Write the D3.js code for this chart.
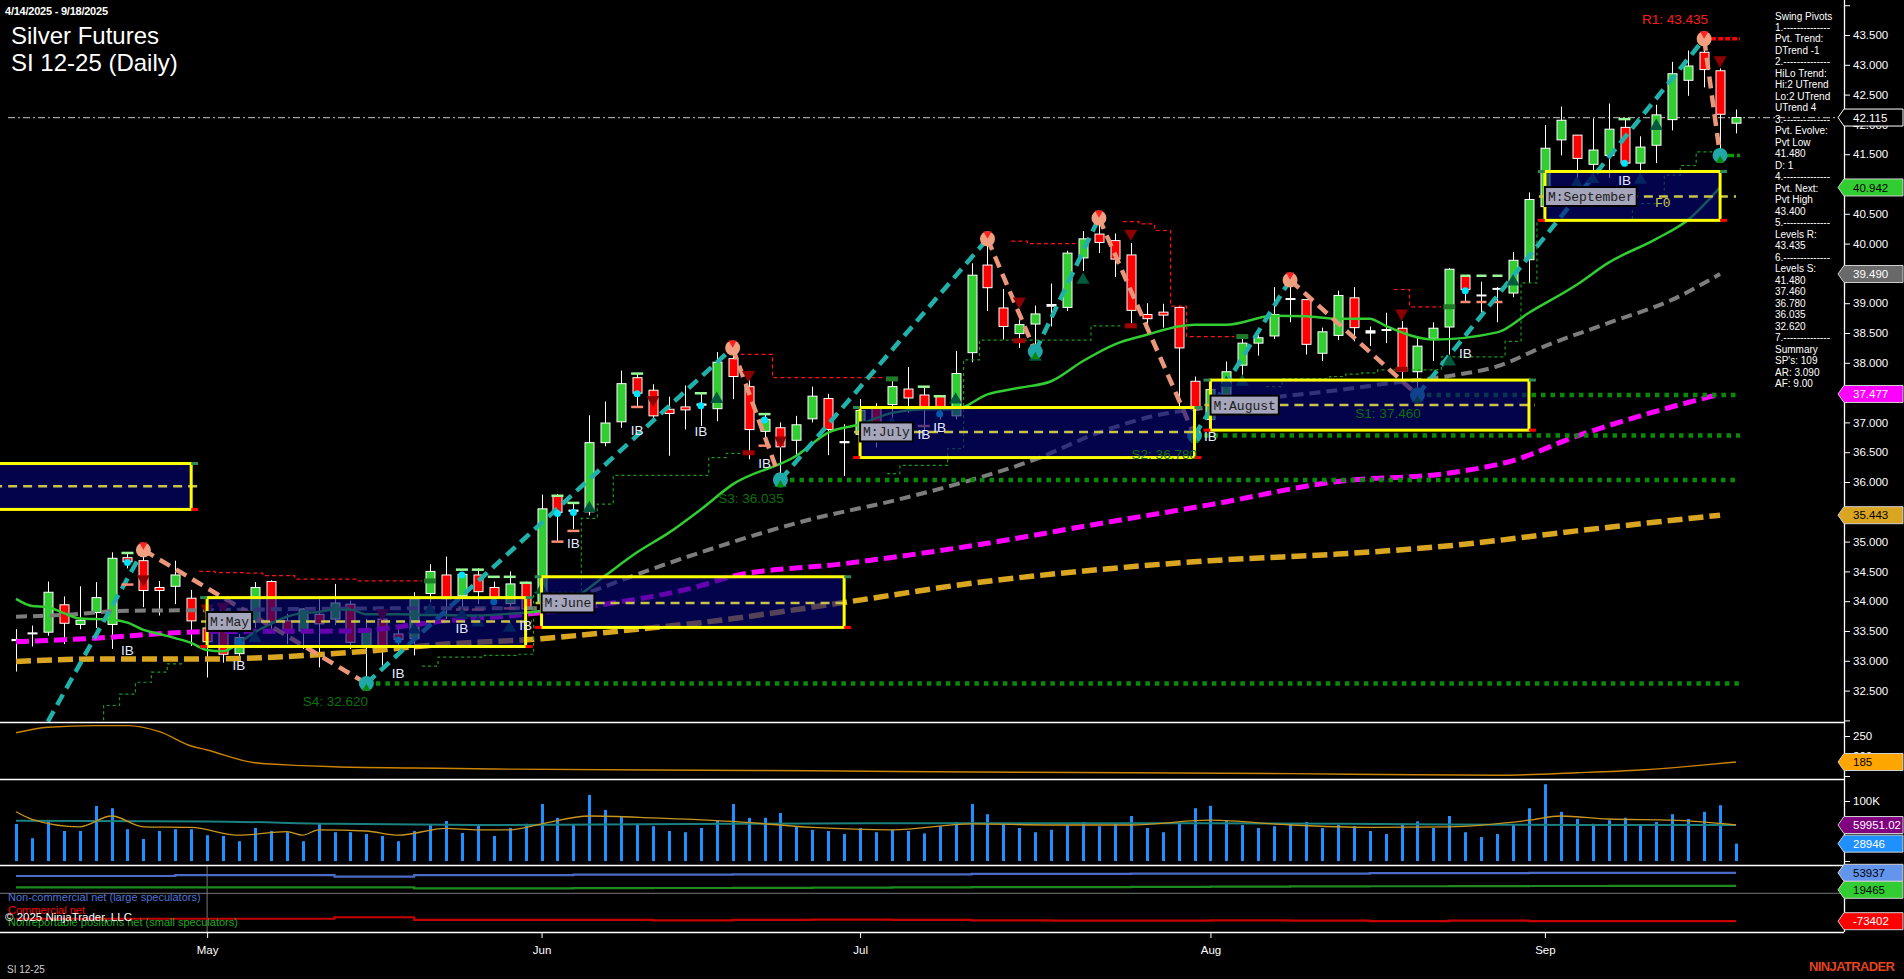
<!DOCTYPE html>
<html><head><meta charset="utf-8"><title>Silver Futures SI 12-25 (Daily)</title>
<script src="https://cdn.jsdelivr.net/npm/d3@7/dist/d3.min.js"></script>
<style>
html,body{margin:0;padding:0;background:#000;overflow:hidden}
svg{display:block}
text{font-family:Arial,"Liberation Sans",Helvetica,sans-serif}
</style></head><body>
<svg id="chart" width="1904" height="979"></svg>
<script>
// ================= DATA =================
const monthIdx = [12,33,53,75,96];
const monthLabels = ["May","Jun","Jul","Aug","Sep"];

const open = [33.35,33.45,33.48,33.94,33.61,33.81,33.61,34.73,34.68,34.23,
34.25,34.05,33.55,33.53,33.12,33.65,34.33,33.67,33.50,33.78,
33.70,33.95,33.23,33.70,33.45,33.37,34.13,34.44,34.09,34.44,
34.23,33.96,34.30,33.97,35.77,35.52,35.50,36.66,37.01,37.75,
37.54,37.22,37.26,37.30,37.23,38.07,37.60,36.85,36.91,36.70,
37.06,37.40,36.67,36.80,37.25,37.30,37.56,37.46,37.44,37.11,
38.17,39.64,38.92,38.49,38.65,38.94,38.93,39.76,40.16,40.05,
39.81,38.81,38.85,38.93,37.69,37.05,37.47,37.96,38.33,38.45,
39.07,39.06,38.16,38.46,39.09,38.53,38.55,38.58,37.85,38.41,
38.60,39.45,39.12,39.23,39.17,39.73,40.62,41.74,41.82,41.33,
41.48,41.95,41.35,41.65,42.08,42.74,43.21,42.90,42.02];
const high = [33.53,33.59,34.33,34.08,34.25,34.32,34.82,34.80,34.86,34.34,
34.68,34.19,33.59,33.70,33.45,34.32,34.35,33.79,33.88,34.04,
34.29,34.01,33.70,33.84,33.53,34.15,34.62,34.75,34.48,34.55,
34.33,34.50,34.33,35.79,35.80,35.65,37.12,37.35,37.87,37.82,
37.64,37.43,37.62,37.50,38.18,38.25,37.72,37.13,37.00,37.11,
37.60,37.48,36.97,37.39,37.32,37.73,37.93,37.61,37.45,38.20,
39.67,40.08,39.24,38.72,38.96,39.33,39.88,40.21,40.43,40.17,
40.01,39.00,38.99,38.95,37.77,37.72,38.02,38.47,38.47,39.27,
39.39,39.06,38.59,39.21,39.27,38.61,38.84,38.70,38.42,38.68,
39.59,39.46,39.36,39.27,39.86,40.86,41.99,42.30,41.82,42.10,
42.35,42.10,41.80,42.33,43.05,43.24,43.435,42.94,42.25];
const low = [32.82,33.24,33.42,33.28,33.53,33.55,33.20,34.55,33.90,33.76,
33.95,33.25,32.72,32.97,33.00,33.55,33.45,33.28,33.20,32.89,
33.60,33.20,32.62,32.92,33.09,33.09,33.98,33.70,33.87,33.95,
33.98,33.85,33.80,33.90,35.01,35.21,35.44,36.60,36.91,37.27,
37.05,36.44,36.88,36.94,37.02,37.39,36.38,36.60,36.035,36.46,
37.00,36.45,36.10,36.58,36.58,37.05,37.16,36.77,37.05,37.05,
38.01,38.87,38.39,38.25,38.19,38.61,38.87,39.54,39.84,39.44,
38.66,38.57,38.59,37.27,36.78,36.90,37.30,37.72,38.12,38.40,
38.68,38.14,38.03,38.38,38.36,38.28,38.33,37.66,37.46,38.03,
38.11,39.03,38.84,38.68,39.10,39.34,40.45,41.48,41.07,41.07,
41.10,41.30,41.18,41.35,41.90,42.48,42.62,41.48,41.85];
const close = [33.33,33.46,34.15,33.63,33.68,34.06,34.72,34.66,34.18,34.18,
34.44,33.67,33.32,33.11,33.39,34.23,33.65,33.48,33.87,33.62,
33.97,33.31,33.53,33.25,33.36,34.04,34.50,34.04,34.45,34.16,
34.05,34.29,33.87,35.55,35.49,35.50,36.66,36.99,37.65,37.49,
37.11,37.15,37.21,37.28,38.01,37.77,36.88,37.05,36.59,36.96,
37.44,36.88,36.65,37.20,36.78,37.60,37.41,37.22,37.22,37.82,
39.47,39.26,38.61,38.64,38.82,38.97,39.84,40.08,40.02,39.74,
38.88,38.74,38.80,38.25,37.22,37.55,37.85,38.33,38.42,38.81,
39.06,38.31,38.52,39.13,38.59,38.49,38.55,37.86,38.28,38.58,
39.57,39.23,39.13,39.24,39.72,40.74,41.60,42.07,41.43,41.57,
41.92,41.35,41.62,42.16,42.85,42.98,42.92,42.17,42.115];

// volume in thousands of contracts
const volume = [61.7,38,67,50,50,91.7,88,53,36.7,50,
53,53,43,41.7,33,55,50,48,33,61.7,
48,48,45,41.7,33,50,60,66.7,46.7,60,
41.7,55,62,95,72,60,110,85,75,62,
58,50,48,55,68,95,72,72,80,58,
52,50,45,55,48,52,50,46,58,65,
95,78,62,55,48,52,60,65,58,62,
75,55,48,62,88,92,68,60,55,58,
62,65,55,60,58,50,45,62,66,55,
75,48,40,45,60,88,128,82,70,62,
68,72,60,65,78,70,82,93,28.946];
const volAvgIdx = [0,1,4,6,8,11,14,17,18,19,22,24,27,29,31,33,36,40,45,50,55,60,65,70,75,80,85,90,95,97,100,104,108];
const volAvgVal = [82,69.5,57,75,57,56,43,49,43,52,50,43,54.5,52,52,62,75,72,66,56,52,62,60,60,68,60,56,57,68,75,70,68,60];
const volLongIdx = [0,12,20,30,45,60,75,90,100,108];
const volLongVal = [67,66,62,60,62,63,63,61,60,59.95102];

const atrIdx = [0,2,5,7,9,11,12,15,18,20,25,30,40,50,60,70,80,88,93,98,102,105,108];
const atrVal = [258,272,276,276,261,225,215,183,176,173,170,167.5,165,163,160,158,156,153,152,158,165,174,185];

const cotWeekStart = [0,5,10,15,20,25,30,35,40,45,50,55,60,65,70,75,80,85,90,95,100,105];
const cotLarge = [45.5,45.5,48,48,43.7,48,48,49,49,50,50,50,51,51,52,52,52,53,53,53.5,53.9,53.937];
const cotSmall = [15.8,15.8,15.8,15.8,15.8,13,13,13.5,14,14.5,15,15.5,16,16.5,17,17.5,18,18.5,19,19.2,19.4,19.465];
const cotComm = [-67,-67,-67,-67,-63,-70,-70,-70,-71,-70,-69,-70,-71,-72,-72,-71,-72,-73,-72,-73,-73.2,-73.402];

// moving averages
const greenIdx = [0,1,2,3,4,5,6,7,8,9,10,11,12,13,14,15,16,17,18,19,20,21,22,24,26,29,31,33,35,37,39,41,43,45,49,51,53,55,57,59,61,63,65,67,69,71,73,74,76,79,81,83,85,86,89,93,95,98,100,103,105,107];
const greenVal = [34.04,33.92,33.90,33.80,33.71,33.70,33.69,33.64,33.52,33.45,33.38,33.30,33.18,33.16,33.30,33.48,33.62,33.74,33.80,33.82,33.86,33.86,33.78,33.78,33.77,33.76,33.79,33.84,34.04,34.43,34.82,35.15,35.54,35.96,36.44,36.83,36.97,37.16,37.22,37.22,37.47,37.58,37.69,38.03,38.31,38.47,38.61,38.64,38.64,38.79,38.78,38.74,38.74,38.62,38.39,38.51,38.84,39.31,39.68,40.08,40.40,40.942];
const grayIdx = [0,3,7,12,18,24,28,33,36,39,43,50,55,59,64,68,72,74,78,83,86,90,93,96,100,104,107];
const grayVal = [33.74,33.77,33.84,33.85,33.87,33.88,33.88,33.88,34.15,34.45,34.82,35.38,35.68,35.96,36.38,36.83,37.14,37.22,37.39,37.54,37.65,37.78,37.94,38.28,38.67,39.06,39.49];
const magIdx = [0,5,10,12,21,27,32,37,43,45,52,60,68,75,83,90,94,98,102,107];
const magVal = [33.32,33.38,33.47,33.49,33.50,33.67,33.78,33.95,34.26,34.42,34.63,34.93,35.30,35.62,36.01,36.15,36.36,36.77,37.11,37.477];
const orgIdx = [0,5,12,21,27,33,39,43,52,60,68,75,83,90,98,107];
const orgVal = [32.99,33.03,33.03,33.14,33.28,33.37,33.53,33.64,33.98,34.30,34.53,34.68,34.79,34.93,35.18,35.443];

const lastPrice = 42.115;

// swing pivots (zig-zag)
const zzIdx = [2,8,22,45,48,61,64,68,74,80,88,106,107];
const zzVal = [31.98,34.86,32.62,38.25,36.035,40.08,38.19,40.43,36.78,39.39,37.46,43.435,41.48];

// support / resistance levels
const sLabels = ["S1: 37.460","S2: 36.780","S3: 36.035","S4: 32.620"];
const sIdx = [88,74,48,22];
const sVal = [37.46,36.78,36.035,32.62];
const sLabelIdx = [84.1,70.05,44.1,18.0];
const r1Idx = 106, r1Val = 43.435, r1Label = "R1: 43.435", r1LabelIdx = 102.1;
const s0Idx = 107, s0Val = 41.48;

// trailing step lines
const gStepIdx = [[5.5,5.5,6.5,7.5,8.5,9.5,10.5],
 [25.5,26.5,29.4,31.4,32.5,35.5,36.5,37.5,43.5,44.6,45.7],
 [54.7,55.5,58.5,59.5,60.5,67.5,69.5],
 [78.5,79.5,82.5,83.5,84.5,85.5,89.5,93.5,94.5,95.5,101.5,103.5,104.5,105.5,106.5]];
const gStepVal = [[31.9,32.25,32.44,32.64,32.81,32.95,32.95],
 [32.91,33.06,33.09,33.11,34.15,35.39,35.63,36.11,36.41,36.48,36.48],
 [36.14,36.28,36.56,38.05,38.38,38.62,38.62],
 [37.60,37.73,37.77,37.81,37.83,37.88,38.10,38.36,39.34,40.40,40.67,41.15,41.31,41.54,41.54]];
const rStepIdx = [[11.5,12.5,14.5,15.5,17.5,21.5,25.5],[45.5,47.5,54.5],[62.5,63.5,66.5],[69.5,70.5,71.5,72.5,73.5,76.5],[86.5,87.5,89.5]];
const rStepVal = [[34.50,34.48,34.47,34.43,34.37,34.34,34.34],[38.14,37.75,37.75],[40.04,40.0,40.0],[40.37,40.33,40.22,38.95,38.44,38.44],[39.23,38.94,38.94]];

// monthly boxes
const boxName = ["","M:May","M:June","M:July","M:August","M:September"];
const boxStart = [-2,12,33,53,75,96];
const boxEnd = [11,32,52,74,95,107];
const boxHigh = [36.31,34.06,34.41,37.25,37.71,41.21];
const boxLow = [35.54,33.24,33.56,36.41,36.87,40.39];
const boxMid = [35.93,33.66,33.97,36.84,37.29,40.79];

// markers
const dnTriIdx = [8,12,13,23,40,46,48,63,70,87,107];
const dnTriVal = [34.37,33.88,33.91,33.80,37.38,37.80,36.70,39.03,40.17,38.83,43.08];
const upTriIdx = [15,25,26,28,29,31,33,36,44,48,55,59,64,67,76,77,88,90,94,98,99,102,103];
const upTriVal = [33.38,33.52,33.85,33.77,33.64,33.55,34.19,35.56,37.39,35.98,36.98,37.38,38.10,39.39,37.66,37.68,37.40,38.02,39.36,41.01,41.08,41.07,41.97];
const ibIdx = [7,14,24,28,32,35,39,43,47,57,58,75,91,101];
const ibVal = [33.18,32.93,32.79,33.55,33.60,34.98,36.87,36.86,36.32,36.81,36.93,36.77,38.16,41.07];
const cyanIdx = [7,14,24,28,30,34,35,39,43,47,58,91,101];
const cyanVal = [34.65,33.32,33.35,34.44,33.99,35.47,35.49,37.48,37.28,37.04,37.14,39.21,41.35];
const hiMarkIdx = [7,28,29,30,31,32,34,35,39,43,47,57,58,101];
const hiMarkVal = [34.81,34.53,34.53,34.41,34.41,34.31,35.77,35.65,37.82,37.49,37.14,37.60,37.44,42.09];
const loMarkIdx = [7,28,29,31,34,35,39,47,57];
const loMarkVal = [34.28,33.86,33.86,33.88,35.00,35.18,37.26,36.61,36.94];
const ibExtStart = [90.7], ibExtEnd = [93.4], ibExtHi = [39.46], ibExtLo = [39.02];
const dRedRectIdx = [46,63,70,87], dRedRectVal = [36.49,38.37,38.62,37.89];
const dGrnRectIdx = [26,55,77,90], dGrnRectVal = [34.34,37.73,38.44,38.94];
const f0Idx = 103.4, f0Val = 40.69;

const pivotText = ["Swing Pivots","1.--------------","Pvt. Trend:","DTrend -1","2.--------------","HiLo Trend:","Hi:2 UTrend","Lo:2 UTrend","UTrend 4","3.--------------","Pvt. Evolve:","Pvt Low","41.480","D: 1","4.--------------","Pvt. Next:","Pvt High","43.400","5.--------------","Levels R:","43.435","6.--------------","Levels S:","41.480","37.460","36.780","36.035","32.620","7.--------------","Summary","SP's: 109","AR: 3.090","AF: 9.00"];

// ================= LAYOUT =================
const W = 1904, H = 979, AX = 1844;
const x = d3.scaleLinear().domain([0,108]).range([16,1736]);
const y = d3.scaleLinear().domain([32.5,43.5]).range([690.6,35]);
const yAtr = d3.scaleLinear().domain([200,250]).range([756,736]);
const yVol = d3.scaleLinear().domain([0,100]).range([861,801]);
const yCot = d3.scaleLinear().domain([0,53.937]).range([893.3,872.8]);

const svg = d3.select("#chart");
svg.append("rect").attr("width",W).attr("height",H).attr("fill","#000");
const defs = svg.append("defs");
function clip(id,y0,y1){ defs.append("clipPath").attr("id",id).append("rect").attr("x",0).attr("y",y0).attr("width",AX).attr("height",y1-y0); }
clip("cMain",0,722); clip("cAtr",722,779); clip("cVol",779,865); clip("cCot",865,932);
const gm = svg.append("g").attr("clip-path","url(#cMain)");
const pts = (idx,val)=>idx.map((d,k)=>[d,val[k]]);
const line = d3.line().x(d=>x(d[0])).y(d=>y(d[1]));

// last price dash-dot
gm.append("line").attr("x1",8).attr("x2",AX).attr("y1",y(lastPrice)).attr("y2",y(lastPrice))
  .attr("stroke","#a0a0a0").attr("stroke-width",1.2).attr("stroke-dasharray","7,3,2,3");

// candles
const gc = gm.append("g");
d3.range(open.length).forEach(i=>{
  const cx = Math.round(x(i))+0.5;
  gc.append("line").attr("x1",cx).attr("x2",cx).attr("y1",y(high[i])).attr("y2",y(low[i])).attr("stroke","#fff").attr("stroke-width",1);
  const yo=y(open[i]), yc=y(close[i]), h=Math.abs(yo-yc);
  if(h<2.5){
    gc.append("rect").attr("x",cx-5).attr("y",Math.min(yo,yc)-1).attr("width",10).attr("height",Math.max(2,h+1)).attr("fill","#fff");
  } else {
    gc.append("rect").attr("x",cx-4.5).attr("y",Math.min(yo,yc)).attr("width",9).attr("height",h)
      .attr("fill",close[i]>=open[i]?"#32cd32":"#ff0000").attr("stroke","#fff").attr("stroke-width",1);
  }
});

// moving averages
function maLine(idx,val,color,w,dash){
  gm.append("path").datum(pts(idx,val)).attr("d",d3.line().x(d=>x(d[0])).y(d=>y(d[1])).curve(d3.curveMonotoneX))
    .attr("fill","none").attr("stroke",color).attr("stroke-width",w).attr("stroke-dasharray",dash||null);
}
maLine(orgIdx,orgVal,"#daa520",5.5,"15,6");
maLine(magIdx,magVal,"#ff00ff",5,"13,6");
maLine(grayIdx,grayVal,"#7d7d7d",4,"11,6");
maLine(greenIdx,greenVal,"#32cd32",2.5);

// trailing step lines
const stepLine = d3.line().x(d=>x(d[0])).y(d=>y(d[1])).curve(d3.curveStepAfter);
gStepIdx.forEach((idx,k)=>{
  gm.append("path").datum(pts(idx,gStepVal[k])).attr("d",stepLine).attr("fill","none")
    .attr("stroke","#1a9a1a").attr("stroke-width",1.2).attr("stroke-dasharray","3,3");
});
rStepIdx.forEach((idx,k)=>{
  gm.append("path").datum(pts(idx,rStepVal[k])).attr("d",stepLine).attr("fill","none")
    .attr("stroke","#ff1010").attr("stroke-width",1.2).attr("stroke-dasharray","4,3");
});

// support levels (dotted)
sIdx.forEach((si,k)=>{
  gm.append("line").attr("x1",x(si)).attr("x2",x(108.25)).attr("y1",y(sVal[k])).attr("y2",y(sVal[k]))
    .attr("stroke","#0a8a0a").attr("stroke-width",4.5).attr("stroke-dasharray","4.5,5");
});
gm.append("line").attr("x1",x(s0Idx)+6).attr("x2",x(108.25)).attr("y1",y(s0Val)).attr("y2",y(s0Val))
  .attr("stroke","#0a9a0a").attr("stroke-width",3.5).attr("stroke-dasharray","8,3");
gm.append("line").attr("x1",x(r1Idx)).attr("x2",x(108.25)).attr("y1",y(r1Val)).attr("y2",y(r1Val))
  .attr("stroke","#ff0000").attr("stroke-width",3.5).attr("stroke-dasharray","5,2");

// inside-bar extension dashes
ibExtStart.forEach((s,k)=>{
  gm.append("line").attr("x1",x(s)).attr("x2",x(ibExtEnd[k])).attr("y1",y(ibExtHi[k])).attr("y2",y(ibExtHi[k])).attr("stroke","#98fb98").attr("stroke-width",2.5).attr("stroke-dasharray","10,6");
  gm.append("line").attr("x1",x(s)).attr("x2",x(ibExtEnd[k])).attr("y1",y(ibExtLo[k])).attr("y2",y(ibExtLo[k])).attr("stroke","#fa8a72").attr("stroke-width",2.5).attr("stroke-dasharray","10,6");
});

// zigzag
const zz = pts(zzIdx,zzVal);
for(let k=0;k<zz.length-1;k++){
  const up = zz[k+1][1] > zz[k][1];
  gm.append("path").datum([zz[k],zz[k+1]]).attr("d",line).attr("fill","none")
    .attr("stroke",up?"#20b2aa":"#e9967a").attr("stroke-width",4.5).attr("stroke-dasharray","12,7");
}

// small markers
const gmk = gm.append("g");
dRedRectIdx.forEach((d,k)=>gmk.append("rect").attr("x",x(d)-6).attr("y",y(dRedRectVal[k])-2.5).attr("width",12).attr("height",5).attr("fill","#a00000"));
dGrnRectIdx.forEach((d,k)=>gmk.append("rect").attr("x",x(d)-6).attr("y",y(dGrnRectVal[k])-2.5).attr("width",12).attr("height",5).attr("fill","#1f7a2a"));
hiMarkIdx.forEach((d,k)=>gmk.append("rect").attr("x",x(d)-6).attr("y",y(hiMarkVal[k])-1.2).attr("width",12).attr("height",2.5).attr("fill","#98fb98"));
loMarkIdx.forEach((d,k)=>gmk.append("rect").attr("x",x(d)-6).attr("y",y(loMarkVal[k])-1.2).attr("width",12).attr("height",2.5).attr("fill","#fa8a72"));
cyanIdx.forEach((d,k)=>gmk.append("circle").attr("cx",x(d)).attr("cy",y(cyanVal[k])).attr("r",3.5).attr("fill","#00e5ff"));
const triSym = d3.symbol().type(d3.symbolTriangle).size(75);
dnTriIdx.forEach((d,k)=>gmk.append("path").attr("d",triSym).attr("transform",`translate(${x(d)},${y(dnTriVal[k])}) rotate(180)`).attr("fill","#8b0000"));
upTriIdx.forEach((d,k)=>gmk.append("path").attr("d",triSym).attr("transform",`translate(${x(d)},${y(upTriVal[k])})`).attr("fill","#005a3c"));

// pivot circles
zz.slice(1).forEach((p,k)=>{
  const prev = zz[k], isHigh = p[1] > prev[1];
  const cx=x(p[0]), cy=y(p[1]);
  gm.append("circle").attr("cx",cx).attr("cy",cy).attr("r",7.5).attr("fill",isHigh?"#f0a080":"#20a8a8");
  if(isHigh) gm.append("path").attr("d",d3.symbol().type(d3.symbolTriangle).size(30)).attr("transform",`translate(${cx},${cy-5}) rotate(180)`).attr("fill","#ff2020");
  else gm.append("path").attr("d",d3.symbol().type(d3.symbolTriangle).size(30)).attr("transform",`translate(${cx},${cy+5})`).attr("fill","#0a8a0a");
});

// monthly boxes
boxName.forEach((nm,k)=>{
  const x0=x(boxStart[k]), x1=x(boxEnd[k]), yt=y(boxHigh[k]), yb=y(boxLow[k]), ym=y(boxMid[k]);
  gm.append("rect").attr("x",x0).attr("y",yt).attr("width",x1-x0).attr("height",yb-yt).attr("fill","#05057a").attr("opacity",0.62);
  gm.append("line").attr("x1",x0-6).attr("x2",x1+(k===boxName.length-1?x(108)-x1:6)).attr("y1",ym).attr("y2",ym)
    .attr("stroke","#c9c34a").attr("stroke-width",2.5).attr("stroke-dasharray","9,6");
  gm.append("rect").attr("x",x0).attr("y",yt).attr("width",x1-x0).attr("height",yb-yt).attr("fill","none").attr("stroke","#ffff00").attr("stroke-width",3);
  gm.append("line").attr("x1",x1).attr("x2",x1+7).attr("y1",yt).attr("y2",yt).attr("stroke","#2e8b57").attr("stroke-width",3);
  gm.append("line").attr("x1",x1).attr("x2",x1+7).attr("y1",yb).attr("y2",yb).attr("stroke","#ff0000").attr("stroke-width",3);
  gm.append("line").attr("x1",x0-7).attr("x2",x0).attr("y1",yt).attr("y2",yt).attr("stroke","#2e8b57").attr("stroke-width",3);
  gm.append("line").attr("x1",x0-7).attr("x2",x0).attr("y1",yb).attr("y2",yb).attr("stroke","#ff0000").attr("stroke-width",3);
  if(nm){
    const tw = nm.length*7.8+6;
    gm.append("rect").attr("x",x0).attr("y",ym-9.5).attr("width",tw).attr("height",19).attr("fill","#a5a5bb").attr("stroke","#000").attr("stroke-width",2);
    gm.append("text").attr("x",x0+3).attr("y",ym+4.5).attr("fill","#202020").attr("font-size",13)
      .style("font-family","'Liberation Mono','DejaVu Sans Mono',monospace").text(nm);
  }
});

// texts on price panel
sLabels.forEach((t,k)=>{
  gm.append("text").attr("x",x(sLabelIdx[k])).attr("y",y(sVal[k])+23).attr("fill","#0a700a").attr("font-size",13.5).text(t);
});
gm.append("text").attr("x",x(r1LabelIdx)).attr("y",y(r1Val)-15).attr("fill","#ff1a1a").attr("font-size",13.5).text(r1Label);
ibIdx.forEach((d,k)=>{
  gm.append("text").attr("x",x(d)).attr("y",y(ibVal[k])+5).attr("text-anchor","middle").attr("fill","#e4eaff").attr("font-size",13.5).text("IB");
});
gm.append("text").attr("x",x(f0Idx)).attr("y",y(f0Val)+5).attr("text-anchor","middle").attr("fill","#c9c34a").attr("font-size",13)
  .style("font-family","'Liberation Mono','DejaVu Sans Mono',monospace").text("F0");

// ================= LOWER PANELS =================
// ATR-type panel
svg.append("g").attr("clip-path","url(#cAtr)").append("path").datum(d3.zip(atrIdx,atrVal))
  .attr("d",d3.line().x(d=>x(d[0])).y(d=>yAtr(d[1])).curve(d3.curveMonotoneX)).attr("fill","none").attr("stroke","#cc8400").attr("stroke-width",1.4);

// volume panel
const gv = svg.append("g").attr("clip-path","url(#cVol)");
gv.selectAll("line.vb").data(volume).join("line").attr("class","vb")
  .attr("x1",(d,i)=>Math.round(x(i))+0.5).attr("x2",(d,i)=>Math.round(x(i))+0.5)
  .attr("y1",yVol(0)).attr("y2",d=>yVol(d)).attr("stroke","#1e90ff").attr("stroke-width",3);
gv.append("path").datum(d3.zip(volLongIdx,volLongVal)).attr("d",d3.line().x(d=>x(d[0])).y(d=>yVol(d[1])).curve(d3.curveMonotoneX))
  .attr("fill","none").attr("stroke","#1a8080").attr("stroke-width",2);
gv.append("path").datum(d3.zip(volAvgIdx,volAvgVal)).attr("d",d3.line().x(d=>x(d[0])).y(d=>yVol(d[1])).curve(d3.curveMonotoneX))
  .attr("fill","none").attr("stroke","#c8961e").attr("stroke-width",1.3);

// COT panel
const gcot = svg.append("g").attr("clip-path","url(#cCot)");
gcot.append("line").attr("x1",0).attr("x2",AX).attr("y1",yCot(0)).attr("y2",yCot(0)).attr("stroke","#777").attr("stroke-width",1);
gcot.append("line").attr("x1",x(monthIdx[0])).attr("x2",x(monthIdx[0])).attr("y1",865).attr("y2",932).attr("stroke","#777").attr("stroke-width",1);
const cotLine = d3.line().x(d=>x(d[0])).y(d=>yCot(d[1])).curve(d3.curveStepAfter);
function cotSeries(vals,color){
  const p = cotWeekStart.map((w,k)=>[w,vals[k]]); p.push([108,vals[vals.length-1]]);
  gcot.append("path").datum(p).attr("d",cotLine).attr("fill","none").attr("stroke",color).attr("stroke-width",2.2);
}
cotSeries(cotLarge,"#4a6cc8");
cotSeries(cotSmall,"#1f8a1f");
cotSeries(cotComm,"#c80000");
const legend=[["Non-commercial net (large speculators)","#4f74d9",901],["Commercial net","#ff0000",913.5],["Nonreportable positions net (small speculators)","#22aa22",925.5]];
legend.forEach(l=>svg.append("text").attr("x",8).attr("y",l[2]).attr("fill",l[1]).attr("font-size",11).text(l[0]));
svg.append("text").attr("x",5).attr("y",921).attr("fill","#fff").attr("font-size",11.5).text("© 2025 NinjaTrader, LLC");

// separators and axes
[722,779,865,932].forEach(v=>svg.append("line").attr("x1",0).attr("x2",AX).attr("y1",v+0.5).attr("y2",v+0.5).attr("stroke","#fff").attr("stroke-width",1.3));
svg.append("line").attr("x1",AX+0.5).attr("x2",AX+0.5).attr("y1",0).attr("y2",932).attr("stroke","#fff").attr("stroke-width",1.3);

function styleAxis(g){ g.select(".domain").remove(); g.selectAll("line").attr("stroke","#fff"); g.selectAll("text").attr("fill","#fff").attr("font-size",11.5).attr("font-family","Arial,'Liberation Sans',sans-serif"); }
const ga = svg.append("g").attr("transform",`translate(${AX},0)`)
  .call(d3.axisRight(y).tickValues(d3.range(32,44.01,0.5)).tickSize(6).tickPadding(3).tickFormat(d=>(d>=32.5&&d<=43.5)?d3.format(".3f")(d):""));
styleAxis(ga);
const gaA = svg.append("g").attr("transform",`translate(${AX},0)`).call(d3.axisRight(yAtr).tickValues([250,200,150]).tickSize(6).tickPadding(3).tickFormat(d=>d===150?"":String(d)));
styleAxis(gaA);
const gaV = svg.append("g").attr("transform",`translate(${AX},0)`).call(d3.axisRight(yVol).tickValues([100,0]).tickSize(6).tickPadding(3).tickFormat(d=>d===100?"100K":""));
styleAxis(gaV);
const gaC = svg.append("g").attr("transform",`translate(${AX},0)`).call(d3.axisRight(yCot).tickValues([0]).tickSize(6).tickPadding(3).tickFormat(d=>"0"));
styleAxis(gaC);
const gx = svg.append("g").attr("transform","translate(0,932)")
  .call(d3.axisBottom(x).tickValues(monthIdx).tickSize(6).tickFormat((d,i)=>monthLabels[i]));
styleAxis(gx); gx.selectAll("text").attr("y",14);

// price tags
function drawTag(yc,txt,fill,tc,stroke){
  const g=svg.append("g");
  g.append("path").attr("d",`M${AX-6},${yc} L${AX},${yc-8.5} L1903,${yc-8.5} L1903,${yc+8.5} L${AX},${yc+8.5} Z`)
    .attr("fill",fill).attr("stroke",stroke||"#d0d0d0").attr("stroke-width",1);
  g.append("text").attr("x",AX+9).attr("y",yc+4.2).attr("fill",tc).attr("font-size",11.5).text(txt);
}
const f3 = d3.format(".3f");
drawTag(y(lastPrice),f3(lastPrice),"#000","#fff","#fff");
drawTag(y(greenVal[greenVal.length-1]),f3(greenVal[greenVal.length-1]),"#32cd32","#000");
drawTag(y(grayVal[grayVal.length-1]),f3(grayVal[grayVal.length-1]),"#696969","#fff");
drawTag(y(magVal[magVal.length-1]),f3(magVal[magVal.length-1]),"#ff00ff","#fff");
drawTag(y(orgVal[orgVal.length-1]),f3(orgVal[orgVal.length-1]),"#daa520","#000");
drawTag(yAtr(atrVal[atrVal.length-1]),String(atrVal[atrVal.length-1]),"#ffa500","#000");
drawTag(yVol(volLongVal[volLongVal.length-1]),(volLongVal[volLongVal.length-1]*1000).toFixed(2),"#800080","#fff");
drawTag(yVol(volume[volume.length-1]),String(Math.round(volume[volume.length-1]*1000)),"#1e90ff","#fff");
const cl=cotLarge[cotLarge.length-1], cs=cotSmall[cotSmall.length-1], cc=cotComm[cotComm.length-1];
drawTag(yCot(cl),String(Math.round(cl*1000)),"#6495ed","#000");
drawTag(Math.max(yCot(cs),yCot(cl)+17),String(Math.round(cs*1000)),"#32cd32","#000");
drawTag(yCot(cc),String(Math.round(cc*1000)),"#ff0000","#fff");

// swing pivot text block
pivotText.forEach((t,k)=>svg.append("text").attr("x",1775).attr("y",19.5+k*11.49).attr("fill","#fff").attr("font-size",10).text(t));

// titles
svg.append("text").attr("x",5).attr("y",15).attr("fill","#fff").attr("font-size",11).attr("font-weight","bold").attr("textLength",103).text("4/14/2025 - 9/18/2025");
svg.append("text").attr("x",11).attr("y",44).attr("fill","#fff").attr("font-size",24).text("Silver Futures");
svg.append("text").attr("x",11).attr("y",71).attr("fill","#fff").attr("font-size",24).text("SI 12-25 (Daily)");
svg.append("text").attr("x",7).attr("y",973).attr("fill","#cfcfcf").attr("font-size",10).text("SI 12-25");
svg.append("text").attr("x",1809).attr("y",971).attr("fill","#e2441c").attr("font-size",13).attr("font-weight","bold").attr("textLength",86).text("NINJATRADER");
</script></body></html>
